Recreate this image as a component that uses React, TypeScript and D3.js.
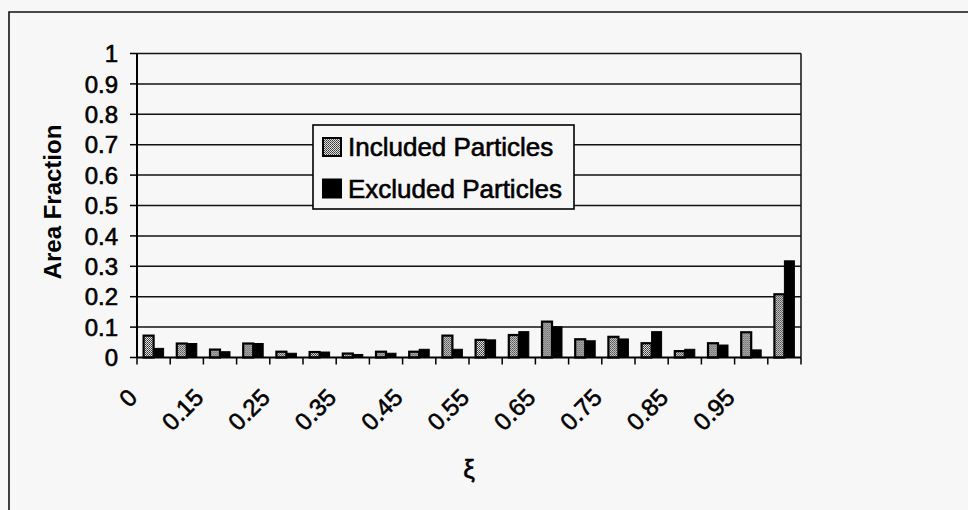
import React from "react";
import * as d3 from "d3";

const categories = ["0","0.1","0.15","0.2","0.25","0.3","0.35","0.4","0.45","0.5","0.55","0.6","0.65","0.7","0.75","0.8","0.85","0.9","0.95","1"];
const included = [0.072,0.046,0.026,0.046,0.019,0.018,0.013,0.019,0.019,0.072,0.058,0.074,0.118,0.060,0.068,0.047,0.021,0.047,0.083,0.208];
const excluded = [0.030,0.046,0.019,0.046,0.014,0.018,0.010,0.014,0.027,0.027,0.058,0.085,0.101,0.055,0.061,0.085,0.027,0.041,0.025,0.318];
const yTicks = [0,0.1,0.2,0.3,0.4,0.5,0.6,0.7,0.8,0.9,1];
const seriesNames = ["Included Particles","Excluded Particles"];

const W = 968, H = 510;
const PL = 137, PR = 801, PT = 53.5, PB = 357.5;
const FONT = "'Liberation Sans', Arial, sans-serif";

export default function App() {
  const x = d3.scaleBand<string>().domain(categories).range([PL, PR]).paddingInner(0).paddingOuter(0);
  const inner = d3.scaleBand<string>().domain(["inc","exc"]).range([0, x.bandwidth()]).paddingInner(0).paddingOuter(0.66);
  const y = d3.scaleLinear().domain([0, 1]).range([PB, PT]);
  const bw = inner.bandwidth();
  const boundaries = d3.range(categories.length + 1).map(i => PL + i * x.step());
  const ts = { stroke: "#000", strokeWidth: 0.6 } as const;

  return (
    <svg width={W} height={H} style={{ position: "absolute", left: 0, top: 0, background: "#f7f7f7" }} fontFamily={FONT}>
      <defs>
        <pattern id="dots" width="2" height="2" patternUnits="userSpaceOnUse">
          <rect width="2" height="2" fill="#e0e0e0" />
          <rect x="0" y="0" width="1" height="1" fill="#333" />
          <rect x="1" y="1" width="1" height="1" fill="#555" />
        </pattern>
      </defs>
      <rect width={W} height={H} fill="#f7f7f7" />
      {/* outer frame */}
      <path d={`M9,${H + 5} L9,12 L${W + 5},12`} fill="none" stroke="#111" strokeWidth={1.6} />

      {/* gridlines */}
      {yTicks.filter(t => t > 0).map(t => (
        <line key={"g" + t} x1={PL} x2={PR} y1={y(t)} y2={y(t)} stroke="#111" strokeWidth={1.5} />
      ))}
      {/* right border of plot */}
      <line x1={PR} x2={PR} y1={PT} y2={PB} stroke="#111" strokeWidth={1.5} />

      {/* bars */}
      {categories.map((c, i) => (
        <g key={c} transform={`translate(${x(c)},0)`}>
          <rect x={inner("inc")} y={y(included[i])} width={bw} height={PB - y(included[i])} fill="url(#dots)" stroke="#000" strokeWidth={2.2} />
          <rect x={inner("exc")} y={y(excluded[i])} width={bw} height={PB - y(excluded[i])} fill="#000" stroke="#000" strokeWidth={1} />
        </g>
      ))}

      {/* y axis */}
      <line x1={PL} x2={PL} y1={PT} y2={PB} stroke="#000" strokeWidth={2} />
      {yTicks.map(t => (
        <g key={"y" + t}>
          <line x1={PL - 7} x2={PL} y1={y(t)} y2={y(t)} stroke="#000" strokeWidth={1.5} />
          <text x={118} y={y(t)} dy="0.36em" textAnchor="end" fontSize={24} fill="#000" {...ts}>{String(t)}</text>
        </g>
      ))}

      {/* x axis */}
      <line x1={PL} x2={PR} y1={PB} y2={PB} stroke="#000" strokeWidth={2} />
      {boundaries.map((bx, i) => (
        <line key={"xt" + i} x1={bx} x2={bx} y1={PB} y2={PB + 7} stroke="#000" strokeWidth={1.5} />
      ))}
      {categories.map((c, i) => i % 2 === 0 ? (
        <text key={"xl" + c} transform={`translate(${(x(c) as number) + x.bandwidth() / 2 - 15},${PB + 41.5}) rotate(-45)`} textAnchor="end" fontSize={24} fill="#000" {...ts}>{c}</text>
      ) : null)}

      {/* axis titles */}
      <text transform={`translate(61,202) rotate(-90)`} textAnchor="middle" fontSize={24} fontWeight="bold" fill="#000">Area Fraction</text>
      <text x={(PL + PR) / 2} y={478} textAnchor="middle" fontSize={26} fill="#000" {...ts}>ξ</text>

      {/* legend */}
      <rect x={313} y={125} width={261} height={84} fill="#f7f7f7" stroke="#000" strokeWidth={1.6} />
      {seriesNames.map((s, i) => (
        <g key={s} transform={`translate(0,${i * 41.5})`}>
          <rect x={323} y={138} width={18} height={18} fill={i === 0 ? "url(#dots)" : "#000"} stroke="#000" strokeWidth={2} />
          <text x={348} y={156} fontSize={26} fill="#000" {...ts}>{s}</text>
        </g>
      ))}
    </svg>
  );
}
